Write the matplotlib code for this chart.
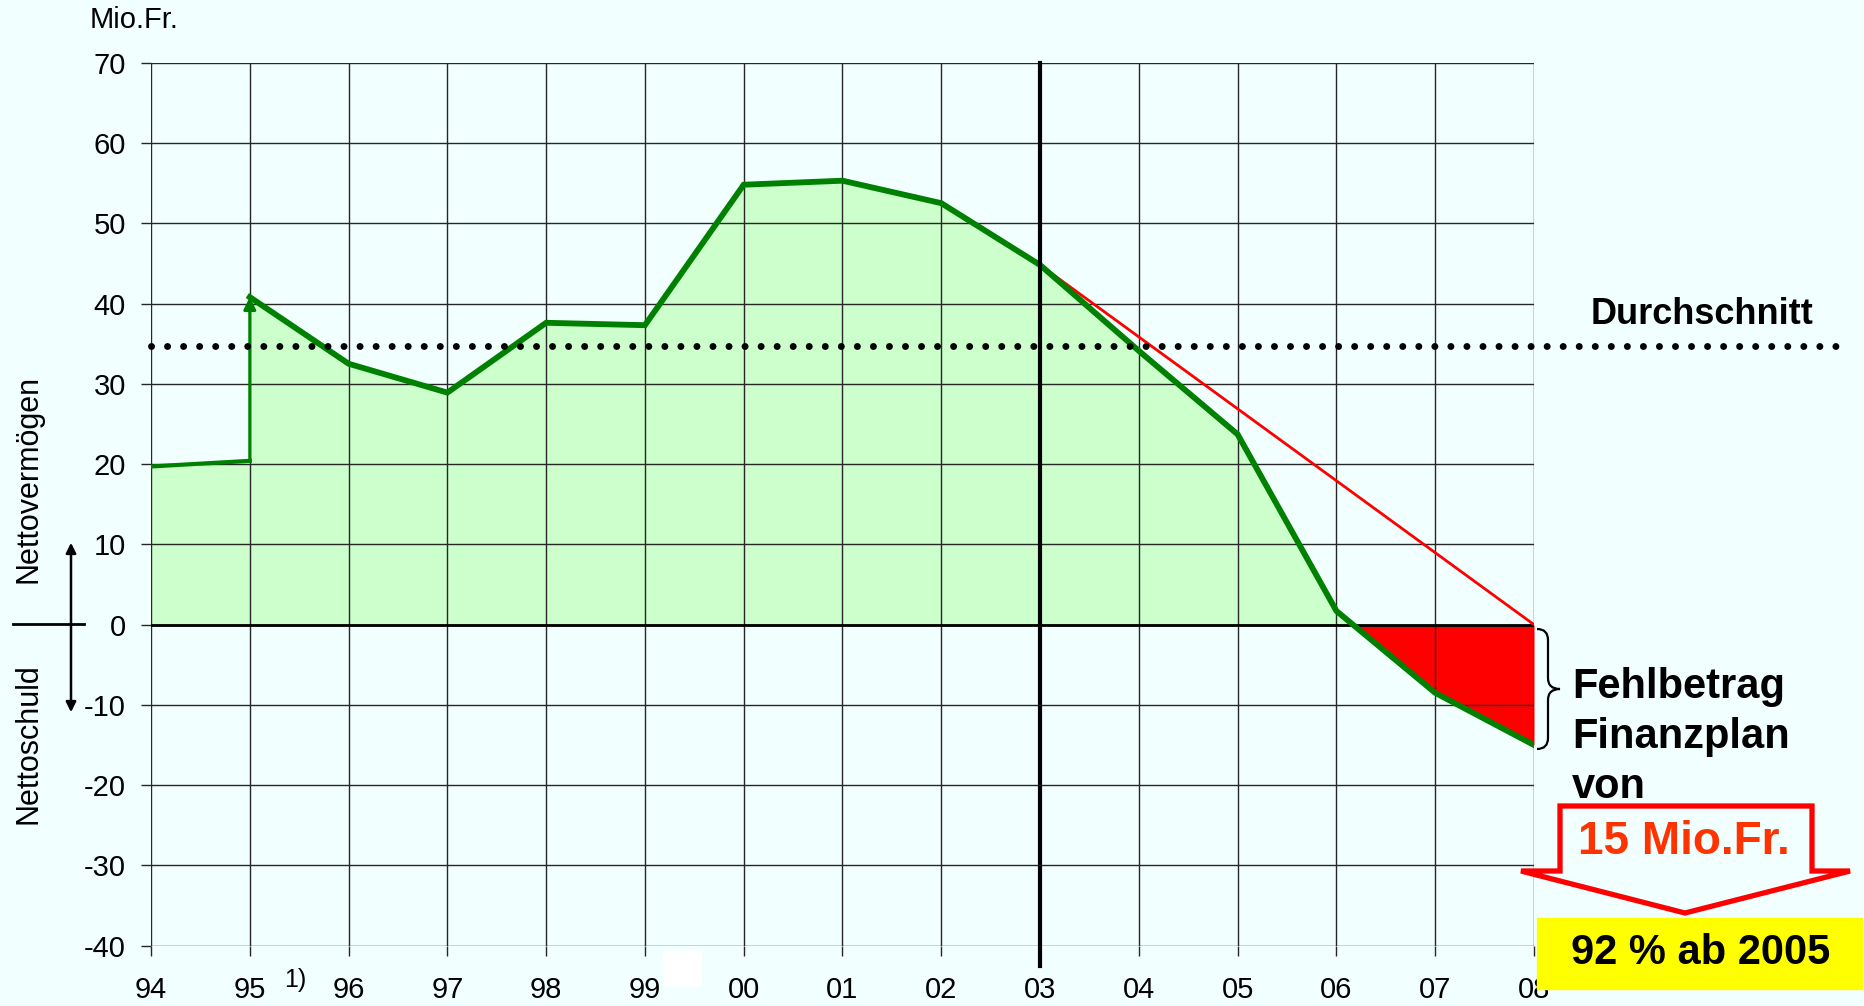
import numpy as np
import matplotlib.pyplot as plt
from matplotlib.patches import Rectangle, Polygon, PathPatch, FancyArrowPatch
from matplotlib.path import Path
from matplotlib.lines import Line2D

plt.rcParams['font.family'] = ['Liberation Sans', 'DejaVu Sans']
plt.rcParams['axes.unicode_minus'] = False

# data
year_labels = ['94', '95', '96', '97', '98', '99', '00', '01', '02', '03',
               '04', '05', '06', '07', '08']
old_years = [0, 1]                 # 94, 95 before the change (1)
old_values = [19.7, 20.4]
years = list(range(1, 15))         # 95 .. 08
values = [40.8, 32.5, 28.9, 37.6, 37.3, 54.8, 55.3, 52.5, 44.8,
          34.1, 23.7, 1.7, -8.5, -15.0]
plan_years = [9, 14]               # 03 -> 08 Finanzplan target line
plan_values = [44.8, 0.0]
average = 34.7
yticks = list(range(-40, 71, 10))

W, H = 1865, 1006
BG = '#F2FFFF'
GRID = '#262626'


def fx(px):
    return px / W


def fy(py):
    return 1 - py / H


fig = plt.figure(figsize=(W / 100, H / 100), dpi=100, facecolor=BG)
ax = fig.add_axes([fx(151), fy(945.7), fx(1534) - fx(151), fy(62.7) - fy(945.7)])
ax.set_facecolor(BG)
ax.set_xlim(0, 14)
ax.set_ylim(-40, 70)

x_all = np.array(old_years + years, dtype=float)
y_all = np.array(old_values + values)

# areas
ax.fill_between(x_all, 0, y_all, where=y_all >= 0, interpolate=True,
                color='#CCFFCC', lw=0, zorder=1)
ax.fill_between(x_all, 0, y_all, where=y_all <= 0, interpolate=True,
                color='#FF0000', lw=0, zorder=1)

# grid
for t in yticks:
    ax.axhline(t, color=GRID, lw=1.0, zorder=2)
for i in range(len(year_labels)):
    ax.axvline(i, color=GRID, lw=1.0, zorder=2)
ax.axhline(0, color='black', lw=2.0, zorder=3)

# lines
ax.plot(old_years, old_values, color='#008000', lw=3.0, zorder=5)
ax.annotate('', xy=(years[0], values[0]), xytext=(old_years[1], old_values[1]),
            arrowprops=dict(arrowstyle='-|>', color='#008000', lw=2.2,
                            mutation_scale=18, shrinkA=0, shrinkB=0), zorder=5)
ax.plot(years, values, color='#008000', lw=4.2, zorder=5, solid_joinstyle='miter')
ax.plot(plan_years, plan_values, color='#FF0000', lw=2.0, zorder=4)
ax.plot([9, 9], [-42.5, 70], color='black', lw=3.0, zorder=6, clip_on=False)
ax.plot([0, 17.15], [average, average], color='black', lw=5.0,
        linestyle=(0, (0.01, 2.3)), dash_capstyle='round', zorder=6, clip_on=False)

# axes
for s in ax.spines.values():
    s.set_visible(False)
ax.set_xticks(range(len(year_labels)))
ax.set_xticklabels(year_labels)
ax.set_yticks(yticks)
ax.tick_params(axis='x', length=7, width=1, color=GRID, pad=15, labelsize=21)
ax.tick_params(axis='y', length=7, width=1, color=GRID, pad=11, labelsize=21)

# texts
fig.text(fx(90), fy(20), 'Mio.Fr.', fontsize=21, va='center', ha='left')
fig.text(fx(29), fy(479), 'Nettovermögen', rotation=90, fontsize=22,
         va='center', ha='center')
fig.text(fx(29), fy(744), 'Nettoschuld', rotation=90, fontsize=22,
         va='center', ha='center')
fig.add_artist(Line2D([fx(13), fx(84)], [fy(624), fy(624)], color='black', lw=2))
fig.patches.append(FancyArrowPatch(
    (fx(71), fy(540)), (fx(71), fy(715)), transform=fig.transFigure,
    arrowstyle='<|-|>', mutation_scale=15, color='black', lw=1.8, figure=fig))
fig.text(fx(295), fy(980), '1)', fontsize=18, va='center', ha='center')
fig.patches.append(Rectangle((fx(663), fy(985)), fx(701) - fx(663), fy(951) - fy(985),
                             transform=fig.transFigure, color='white', zorder=2,
                             figure=fig))

fig.text(fx(1702), fy(314), 'Durchschnitt', fontsize=26, fontweight='bold',
         va='center', ha='center')

# brace
x0, xm, xt, top, bot = 1537, 1548, 1560, 629, 749
mid = (top + bot) / 2
pts = [(x0, top), (xm, top), (xm, top + 11), (xm, mid - 11), (xm, mid), (xt, mid),
       (xm, mid), (xm, mid + 11), (xm, bot - 11), (xm, bot), (x0, bot)]
codes = [Path.MOVETO, Path.CURVE3, Path.CURVE3, Path.LINETO, Path.CURVE3, Path.CURVE3,
         Path.CURVE3, Path.CURVE3, Path.LINETO, Path.CURVE3, Path.CURVE3]
brace = Path([(fx(a), fy(b)) for a, b in pts], codes)
fig.patches.append(PathPatch(brace, transform=fig.transFigure, fill=False,
                             ec='black', lw=1.6, figure=fig))

for line, py in zip(['Fehlbetrag', 'Finanzplan', 'von'], [687, 737, 787]):
    fig.text(fx(1572), fy(py), line, fontsize=30, fontweight='bold',
             va='center', ha='left')

arrow_pts = [(1560, 806), (1812, 806), (1812, 871), (1850, 871), (1685, 913),
             (1521, 871), (1560, 871)]
fig.patches.append(Polygon([(fx(a), fy(b)) for a, b in arrow_pts], closed=True,
                           transform=fig.transFigure, fc=BG, ec='#FF0000', lw=3.8,
                           joinstyle='miter', zorder=3, figure=fig))
fig.text(fx(1684), fy(842), '15 Mio.Fr.', fontsize=33, fontweight='bold',
         color='#FF3300', va='center', ha='center', zorder=4)

fig.patches.append(Rectangle((fx(1537), fy(989)), fx(1862) - fx(1537), fy(918) - fy(989),
                             transform=fig.transFigure, color='#FFFF00', zorder=3,
                             figure=fig))
fig.text(fx(1701), fy(953), '92 % ab 2005', fontsize=30, fontweight='bold',
         va='center', ha='center', zorder=4)

fig.savefig('out.png', dpi=100, facecolor=BG)
